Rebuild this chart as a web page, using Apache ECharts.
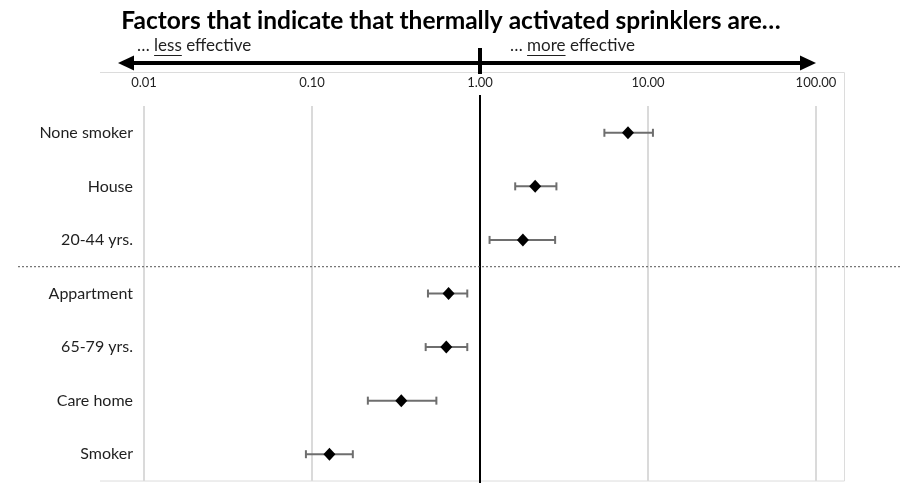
<!DOCTYPE html>
<html>
<head>
<meta charset="utf-8">
<script src="https://cdn.jsdelivr.net/npm/echarts@6/dist/echarts.min.js"></script>
<style>
  html, body { margin: 0; padding: 0; background: #fff; }
  #chart { width: 902px; height: 483px; }
</style>
</head>
<body>
<div id="chart"></div>
<script>
// Odds ratios with 95% confidence intervals per factor
const categories = ['None smoker', 'House', '20-44 yrs.', 'Appartment', '65-79 yrs.', 'Care home', 'Smoker'];
const estimates = [7.6, 2.13, 1.80, 0.65, 0.63, 0.34, 0.127];
const lowerCI   = [5.5, 1.62, 1.14, 0.49, 0.475, 0.215, 0.092];
const upperCI   = [10.7, 2.85, 2.80, 0.84, 0.84, 0.55, 0.175];
const titleText = 'Factors that indicate that thermally activated sprinklers are\u2026';
const lessText = ['\u2026 ', 'less', ' effective'];
const moreText = ['\u2026 ', 'more', ' effective'];

const FONT = 'Lato, "Open Sans", sans-serif';
const TEXT = '#1f1f1f';
const chart = echarts.init(document.getElementById('chart'), null, { renderer: 'canvas' });

chart.setOption({
  animation: false,
  backgroundColor: '#ffffff',
  grid: { left: 144, right: 86, top: 106, bottom: 2, containLabel: false },
  xAxis: {
    type: 'log',
    logBase: 10,
    min: 0.01,
    max: 100,
    position: 'top',
    axisLine: { show: false },
    axisTick: { show: false },
    axisLabel: {
      margin: 17,
      color: TEXT,
      fontFamily: FONT,
      fontSize: 13,
      formatter: v => Number(v).toFixed(2)
    },
    splitLine: { show: true, lineStyle: { color: '#dadada', width: 2 } }
  },
  yAxis: {
    type: 'category',
    data: categories,
    inverse: true,
    axisLine: { show: false },
    axisTick: { show: false },
    splitLine: { show: false },
    axisLabel: { margin: 11, color: TEXT, fontFamily: FONT, fontSize: 16 }
  },
  series: [
    {
      type: 'custom',
      name: 'CI',
      data: categories.map((c, i) => [lowerCI[i], upperCI[i], i]),
      encode: { x: [0, 1], y: 2 },
      renderItem: function (params, api) {
        const lo = api.coord([api.value(0), api.value(2)]);
        const hi = api.coord([api.value(1), api.value(2)]);
        const cap = 4;
        const style = { stroke: '#6e6e6e', lineWidth: 2, fill: null };
        return {
          type: 'group',
          children: [
            { type: 'line', shape: { x1: lo[0], y1: lo[1], x2: hi[0], y2: hi[1] }, style: style },
            { type: 'line', shape: { x1: lo[0], y1: lo[1] - cap, x2: lo[0], y2: lo[1] + cap }, style: style },
            { type: 'line', shape: { x1: hi[0], y1: hi[1] - cap, x2: hi[0], y2: hi[1] + cap }, style: style }
          ]
        };
      },
      z: 3
    },
    {
      type: 'scatter',
      name: 'Estimate',
      data: estimates.map((v, i) => [v, i]),
      symbol: 'diamond',
      symbolSize: [12, 13],
      itemStyle: { color: '#000000', opacity: 1 },
      z: 4
    }
  ]
});

// Decorations positioned from the axis scales
const xOne = chart.convertToPixel({ xAxisIndex: 0 }, 1);
const xMax = chart.convertToPixel({ xAxisIndex: 0 }, 100);
const yRow2 = chart.convertToPixel({ yAxisIndex: 0 }, 2);
const yRow3 = chart.convertToPixel({ yAxisIndex: 0 }, 3);
const ySep = (yRow2 + yRow3) / 2;

const arrowY = 63;
const arrowL = 118;
const frameColor = '#dcdcdc';

// measure a text run to place the underline under the emphasized word
function measure(text, size) {
  const c = document.createElement('canvas').getContext('2d');
  c.font = size + 'px ' + FONT;
  return c.measureText(text).width;
}
function effectLabel(parts, x, y) {
  const size = 17;
  const w0 = measure(parts[0], size);
  const w1 = measure(parts[1], size);
  return [
    { type: 'text', left: x, top: y, silent: true,
      style: { text: parts.join(''), fill: TEXT, font: size + 'px ' + FONT } },
    { type: 'line', silent: true,
      shape: { x1: x + w0, y1: y + 18.5, x2: x + w0 + w1, y2: y + 18.5 },
      style: { stroke: TEXT, lineWidth: 1 } }
  ];
}

chart.setOption({
  title: {
    text: titleText,
    left: 'center',
    top: 4,
    textStyle: { fontFamily: FONT, fontWeight: 'bold', fontSize: 24.5, color: '#000000' }
  },
  graphic: [
    // light frame: top, right, bottom
    { type: 'polyline', silent: true, z: 0,
      shape: { points: [[100, 72.5], [844.5, 72.5], [844.5, 481], [100, 481]] },
      style: { stroke: frameColor, lineWidth: 1, fill: null } },
    // reference line at 1.00
    { type: 'line', silent: true, z: 10,
      shape: { x1: xOne, y1: 95, x2: xOne, y2: 483 },
      style: { stroke: '#000000', lineWidth: 2 } },
    // dashed separator between the two groups
    { type: 'line', silent: true, z: 10,
      shape: { x1: 18, y1: ySep, x2: 902, y2: ySep },
      style: { stroke: '#555555', lineWidth: 1, lineDash: [2, 2] } },
    // double-headed direction arrow
    { type: 'line', silent: true, z: 10,
      shape: { x1: arrowL + 10, y1: arrowY, x2: xMax - 10, y2: arrowY },
      style: { stroke: '#000000', lineWidth: 4 } },
    { type: 'polygon', silent: true, z: 10,
      shape: { points: [[arrowL, arrowY], [arrowL + 16, arrowY - 7.5], [arrowL + 16, arrowY + 7.5]] },
      style: { fill: '#000000' } },
    { type: 'polygon', silent: true, z: 10,
      shape: { points: [[xMax, arrowY], [xMax - 16, arrowY - 7.5], [xMax - 16, arrowY + 7.5]] },
      style: { fill: '#000000' } },
    { type: 'line', silent: true, z: 10,
      shape: { x1: xOne, y1: 48, x2: xOne, y2: 74 },
      style: { stroke: '#000000', lineWidth: 4 } },
    ...effectLabel(lessText, 137, 37),
    ...effectLabel(moreText, 510, 37)
  ]
});
</script>
</body>
</html>
